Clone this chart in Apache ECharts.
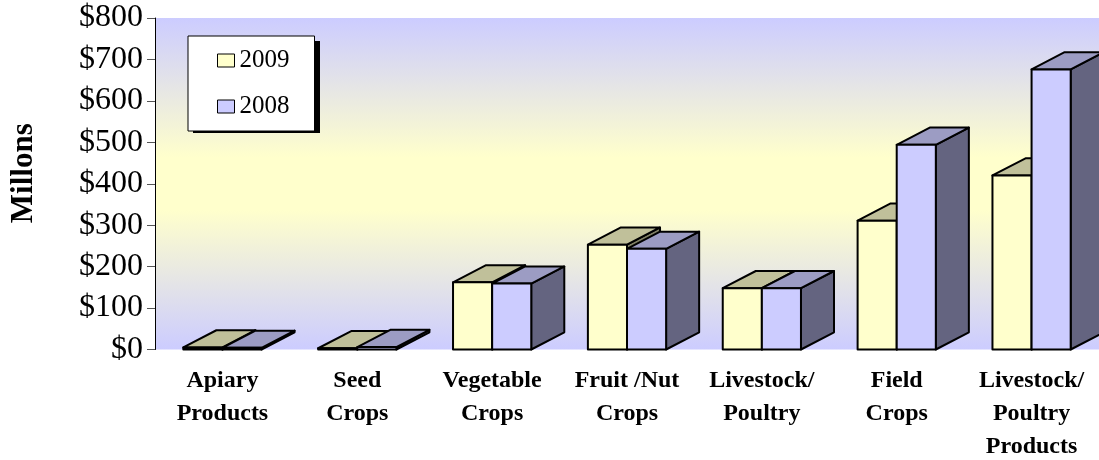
<!DOCTYPE html>
<html>
<head>
<meta charset="utf-8">
<script src="https://cdn.jsdelivr.net/npm/echarts@6/dist/echarts.min.js"></script>
<style>
  html, body { margin: 0; padding: 0; background: #fff; }
  #chart { width: 1099px; height: 460px; }
</style>
</head>
<body>
<div id="chart"></div>
<script>
// categories and values (millions of dollars)
const categories = ['Apiary\nProducts', 'Seed\nCrops', 'Vegetable\nCrops', 'Fruit /Nut\nCrops',
  'Livestock/\nPoultry', 'Field\nCrops', 'Livestock/\nPoultry\nProducts'];
const values2009 = [5, 3, 162, 253, 148, 311, 420];
const values2008 = [4, 6, 159, 243, 148, 494, 676];
const yTicks = [0, 100, 200, 300, 400, 500, 600, 700, 800];

const serif = '"Liberation Serif", "Times New Roman", serif';

// colours of each bar: front, top, side
const colors2009 = { front: '#FFFFCC', top: '#C0C09A', side: '#808066' };
const colors2008 = { front: '#CCCCFF', top: '#9C9CC3', side: '#646480' };

const chart = echarts.init(document.getElementById('chart'));

// a 3d looking box, the 2009 bar sits left of the category center, 2008 right
function makeRenderItem(shift, col) {
  return function (params, api) {
    const idx = api.value(0);
    const val = api.value(1);
    const base = api.coord([idx, 0]);
    const top = api.coord([idx, val]);
    const band = api.size([1, 0])[0];
    const w = band * 0.29;
    const dx = band * 0.245;
    const dy = dx * 0.52;
    const x = base[0] + shift * w;
    const yb = base[1];
    const yt = top[1];
    const line = { stroke: '#000', lineWidth: 2, lineJoin: 'round' };
    return {
      type: 'group',
      children: [
        {
          type: 'polygon',
          shape: { points: [[x + w, yt], [x + w + dx, yt - dy], [x + w + dx, yb - dy], [x + w, yb]] },
          style: Object.assign({ fill: col.side }, line)
        },
        {
          type: 'polygon',
          shape: { points: [[x, yt], [x + w, yt], [x + w + dx, yt - dy], [x + dx, yt - dy]] },
          style: Object.assign({ fill: col.top }, line)
        },
        {
          type: 'rect',
          shape: { x: x, y: yt, width: w, height: yb - yt },
          style: Object.assign({ fill: col.front }, line)
        }
      ]
    };
  };
}

const option = {
  animation: false,
  grid: {
    left: 155, right: 0, top: 18, bottom: 110.5,
    show: true,
    borderWidth: 0,
    backgroundColor: new echarts.graphic.LinearGradient(0, 0, 0, 1, [
      { offset: 0, color: '#CCCCFF' },
      { offset: 0.42, color: '#FFFFCC' },
      { offset: 0.58, color: '#FFFFCC' },
      { offset: 1, color: '#CCCCFF' }
    ]),
    containLabel: false,
    outerBoundsMode: 'none'
  },
  // solid drop shadow behind the legend box
  graphic: [{
    type: 'rect',
    left: 193, top: 41, z: 3,
    shape: { width: 127, height: 92 },
    style: { fill: '#000' }
  }],
  legend: {
    orient: 'vertical',
    left: 188, top: 36, z: 4,
    padding: [12, 25, 12, 29],
    itemWidth: 17, itemHeight: 13, itemGap: 21,
    selectedMode: false,
    backgroundColor: '#fff',
    borderColor: '#000', borderWidth: 1,
    textStyle: { fontFamily: serif, fontSize: 25, color: '#000' },
    data: [
      { name: '2009', icon: 'rect', itemStyle: { color: colors2009.front, borderColor: '#000', borderWidth: 1 } },
      { name: '2008', icon: 'rect', itemStyle: { color: colors2008.front, borderColor: '#000', borderWidth: 1 } }
    ]
  },
  xAxis: {
    type: 'category',
    data: categories,
    axisLine: { show: false },
    axisTick: { show: false },
    axisLabel: {
      interval: 0, margin: 15,
      fontFamily: serif, fontWeight: 'bold', fontSize: 24, lineHeight: 33, color: '#000'
    },
    splitLine: { show: false }
  },
  yAxis: {
    type: 'value',
    min: yTicks[0], max: yTicks[yTicks.length - 1], interval: 100,
    name: 'Millons',
    nameLocation: 'middle',
    nameGap: 116,
    nameTextStyle: { fontFamily: serif, fontWeight: 'bold', fontSize: 31, color: '#000', padding: [0, 0, 0, 21] },
    axisLine: { show: true, lineStyle: { color: '#000', width: 1 } },
    axisTick: { show: true, length: 8, lineStyle: { color: '#555' } },
    axisLabel: {
      margin: 12, fontFamily: serif, fontSize: 32, color: '#000',
      formatter: function (v) { return '$' + v; }
    },
    splitLine: { show: false }
  },
  series: [
    {
      name: '2009',
      type: 'custom',
      color: colors2009.front,
      renderItem: makeRenderItem(-1, colors2009),
      encode: { x: 0, y: 1 },
      data: values2009.map(function (v, i) { return [i, v]; })
    },
    {
      name: '2008',
      type: 'custom',
      color: colors2008.front,
      renderItem: makeRenderItem(0, colors2008),
      encode: { x: 0, y: 1 },
      data: values2008.map(function (v, i) { return [i, v]; })
    }
  ]
};

chart.setOption(option);
</script>
</body>
</html>
